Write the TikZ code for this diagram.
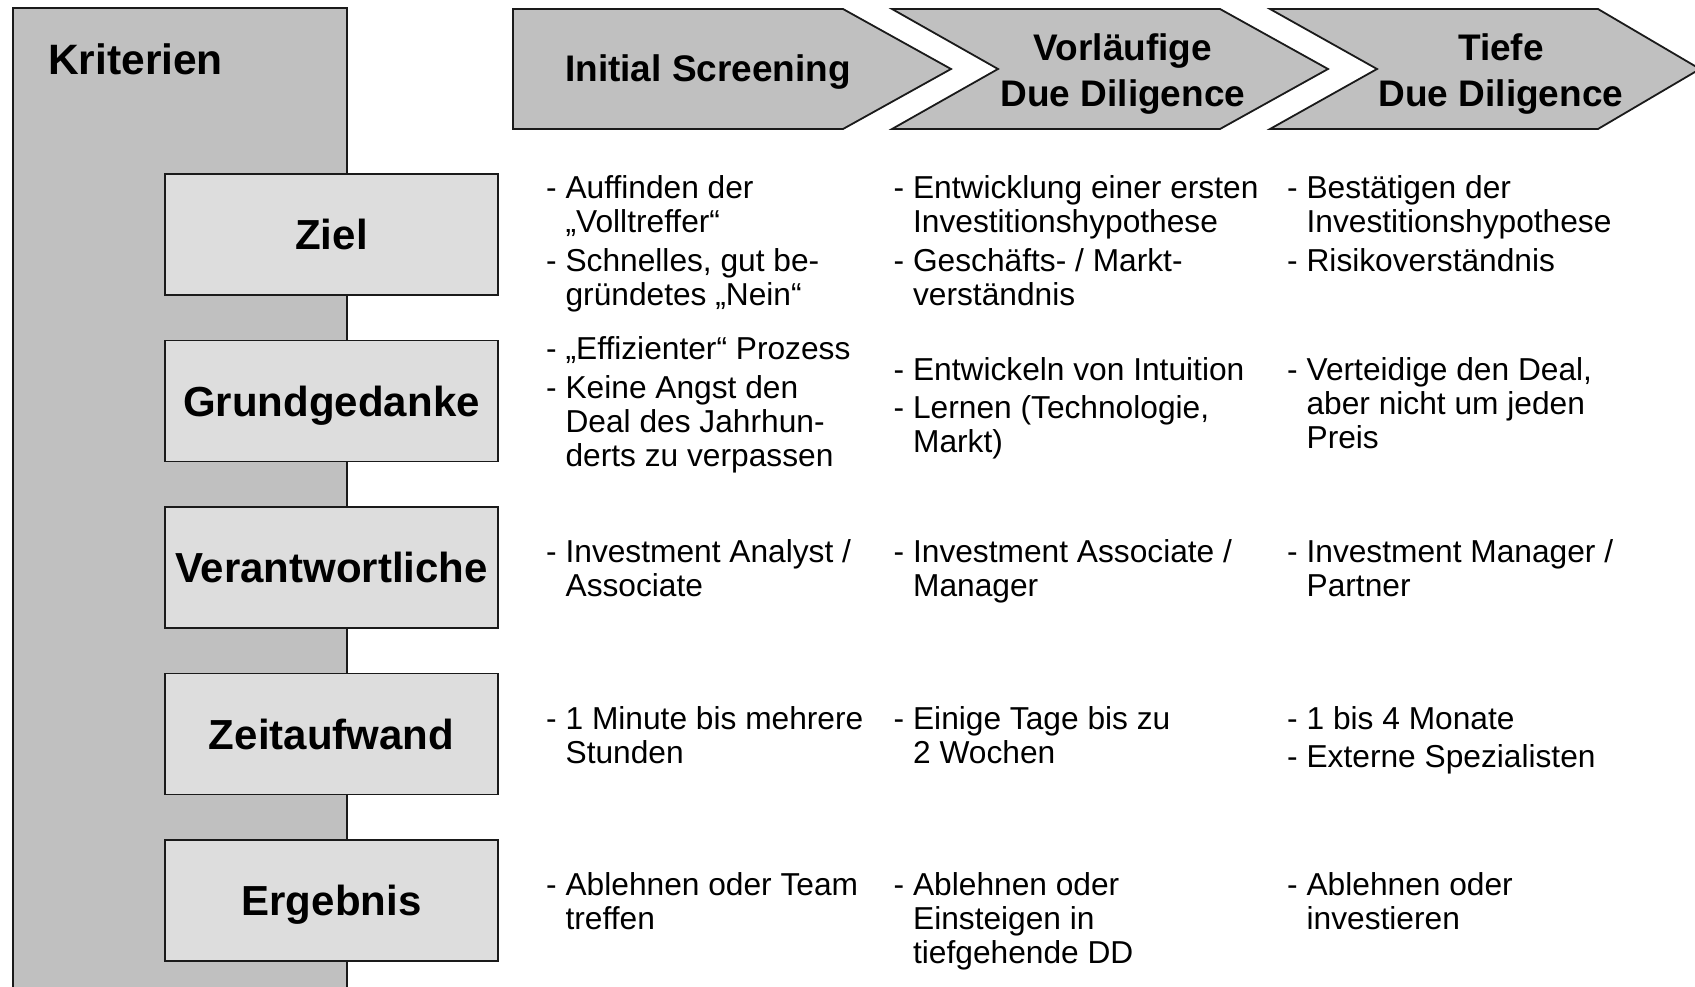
\documentclass[tikz,border=0pt]{standalone}
\usepackage{fontspec}
\setmainfont{Liberation Sans}
\definecolor{darkfill}{HTML}{C0C0C0}
\definecolor{lightfill}{HTML}{DDDDDD}
\definecolor{edgecol}{HTML}{1A1A1A}
\newcommand\itm{\makebox[19.4pt][l]{-}}
\newcommand\ind{\hspace*{19.4pt}}
\newcommand\cellbox[1]{\begin{tabular}[t]{@{}l@{}}#1\end{tabular}}
\newcommand\headbox[1]{\begin{tabular}[t]{@{}c@{}}#1\end{tabular}}
\tikzset{
  frame/.style={draw=edgecol, line width=1.8pt, line join=miter},
  lbl/.style={frame, fill=lightfill, minimum width=333pt, minimum height=121pt,
    inner sep=0pt, text height=30pt, text depth=0pt,
    font=\fontsize{42pt}{50pt}\selectfont\bfseries},
  body/.style={anchor=base west, inner sep=0pt, font=\fontsize{31.7pt}{34pt}\selectfont},
  head/.style={anchor=base, inner sep=0pt, font=\fontsize{37pt}{45.4pt}\selectfont\bfseries},
}
\begin{document}
\begin{tikzpicture}[x=1pt,y=-1pt]
\useasboundingbox (0,0) rectangle (1695,987);
\clip (0,0) rectangle (1695,987);
% criteria column
\draw[frame, fill=darkfill] (13,8) rectangle (347,1005);
\node[anchor=base west, inner sep=0pt, font=\fontsize{42.5pt}{50pt}\selectfont\bfseries] (krit) at (48,75) {Kriterien};
% phase arrows
\draw[frame, fill=darkfill] (513,9) -- (843,9) -- (951,69) -- (843,129) -- (513,129) -- cycle;
\draw[frame, fill=darkfill] (892,9) -- (1220,9) -- (1328,69) -- (1220,129) -- (892,129) -- (998,69) -- cycle;
\draw[frame, fill=darkfill] (1270,9) -- (1598,9) -- (1700,69) -- (1598,129) -- (1270,129) -- (1377,69) -- cycle;
\node[head] (h1) at (708,81.7) {Initial Screening};
\node[head] (h2) at (1123,61) {\headbox{Vorläufige\\Due Diligence}};
\node[head] (h3) at (1501,61) {\headbox{Tiefe\\Due Diligence}};
% row labels
\node[lbl] (ziel) at (331.5,234.5) {Ziel};
\node[lbl] (grund) at (331.5,401) {Grundgedanke};
\node[lbl] (verant) at (331.5,567.5) {Verantwortliche};
\node[lbl] (zeit) at (331.5,734) {Zeitaufwand};
\node[lbl] (ergeb) at (331.5,900.5) {Ergebnis};
% row 1
\node[body] (r1a) at (546,199) {\cellbox{\itm Auffinden der\\ \ind „Volltreffer“\\[5pt] \itm Schnelles, gut be-\\ \ind gründetes „Nein“}};
\node[body] (r1b) at (893.5,199) {\cellbox{\itm Entwicklung einer ersten\\ \ind Investitionshypothese\\[5pt] \itm Geschäfts- / Markt-\\ \ind verständnis}};
\node[body] (r1c) at (1287,199) {\cellbox{\itm Bestätigen der\\ \ind Investitionshypothese\\[5pt] \itm Risikoverständnis}};
% row 2
\node[body] (r2a) at (546,359) {\cellbox{\itm „Effizienter“ Prozess\\[5pt] \itm Keine Angst den\\ \ind Deal des Jahrhun-\\ \ind derts zu verpassen}};
\node[body] (r2b) at (893.5,380) {\cellbox{\itm Entwickeln von Intuition\\[4pt] \itm Lernen (Technologie,\\ \ind Markt)}};
\node[body] (r2c) at (1287,380) {\cellbox{\itm Verteidige den Deal,\\ \ind aber nicht um jeden\\ \ind Preis}};
% row 3
\node[body] (r3a) at (546,562) {\cellbox{\itm Investment Analyst /\\ \ind Associate}};
\node[body] (r3b) at (893.5,562) {\cellbox{\itm Investment Associate /\\ \ind Manager}};
\node[body] (r3c) at (1287,562) {\cellbox{\itm Investment Manager /\\ \ind Partner}};
% row 4
\node[body] (r4a) at (546,729) {\cellbox{\itm 1 Minute bis mehrere\\ \ind Stunden}};
\node[body] (r4b) at (893.5,729) {\cellbox{\itm Einige Tage bis zu\\ \ind 2 Wochen}};
\node[body] (r4c) at (1287,729) {\cellbox{\itm 1 bis 4 Monate\\[4pt] \itm Externe Spezialisten}};
% row 5
\node[body] (r5a) at (546,895) {\cellbox{\itm Ablehnen oder Team\\ \ind treffen}};
\node[body] (r5b) at (893.5,895) {\cellbox{\itm Ablehnen oder\\ \ind Einsteigen in\\ \ind tiefgehende DD}};
\node[body] (r5c) at (1287,895) {\cellbox{\itm Ablehnen oder\\ \ind investieren}};
\end{tikzpicture}
\end{document}
